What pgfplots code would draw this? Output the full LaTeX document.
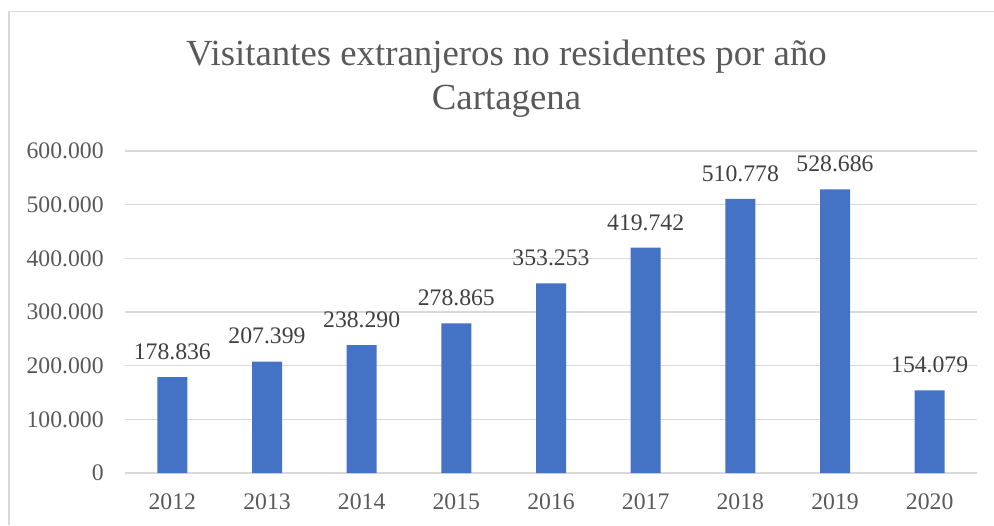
\documentclass[border=0pt]{standalone}
\usepackage{fontspec}
\setmainfont{Liberation Serif}
\usepackage{pgfplots}
\pgfplotsset{compat=1.18}
\definecolor{barblue}{HTML}{4472C4}
\definecolor{gridgray}{HTML}{D9D9D9}
\definecolor{ticktext}{HTML}{595959}
\definecolor{labeltext}{HTML}{404040}
\newcommand{\tickfont}{\fontsize{11.85}{14}\selectfont}

\begin{document}
\begin{tikzpicture}
\useasboundingbox (0,0) rectangle (497pt,262.5pt);
% chart frame (only left and top edges fall inside the crop)
\draw[gridgray, line width=0.6pt] (4.5pt,0) -- (4.5pt,256.75pt) -- (497pt,256.75pt);
% title
\node[anchor=base, text=ticktext, font=\fontsize{18.4}{22}\selectfont, inner sep=0pt]
    at (253.25pt,229.65pt) {Visitantes extranjeros no residentes por año};
\node[anchor=base, text=ticktext, font=\fontsize{18.4}{22}\selectfont, inner sep=0pt]
    at (253.25pt,207.5pt) {Cartagena};
\begin{axis}[
    at={(62.5pt,26pt)}, anchor=south west,
    scale only axis, width=426pt, height=161pt,
    xmin=-0.5, xmax=8.5, ymin=0, ymax=600000,
    xtick=data,
    xticklabels={2012,2013,2014,2015,2016,2017,2018,2019,2020},
    ytick={0,100000,200000,300000,400000,500000,600000},
    scaled y ticks=false,
    /pgf/number format/.cd, fixed, precision=0, 1000 sep={.}, assume math mode=true,
    /pgfplots/.cd,
    axis line style={draw=none},
    tick style={draw=none},
    ymajorgrids, major grid style={gridgray, line width=0.8pt},
    ticklabel style={font=\tickfont, text=ticktext, inner sep=0pt},
    yticklabel style={anchor=east, xshift=-10.5pt},
    xticklabel style={anchor=north, yshift=-10pt},
    nodes near coords,
    every node near coord/.append style={font=\tickfont, text=labeltext,
        inner sep=0pt, anchor=south, yshift=8.5pt},
    clip=false,
]
\addplot[ybar, bar width=15pt, fill=barblue, draw=none] coordinates {
    (0,178836) (1,207399) (2,238290) (3,278865) (4,353253)
    (5,419742) (6,510778) (7,528686) (8,154079)
};
\end{axis}
\end{tikzpicture}
\end{document}
